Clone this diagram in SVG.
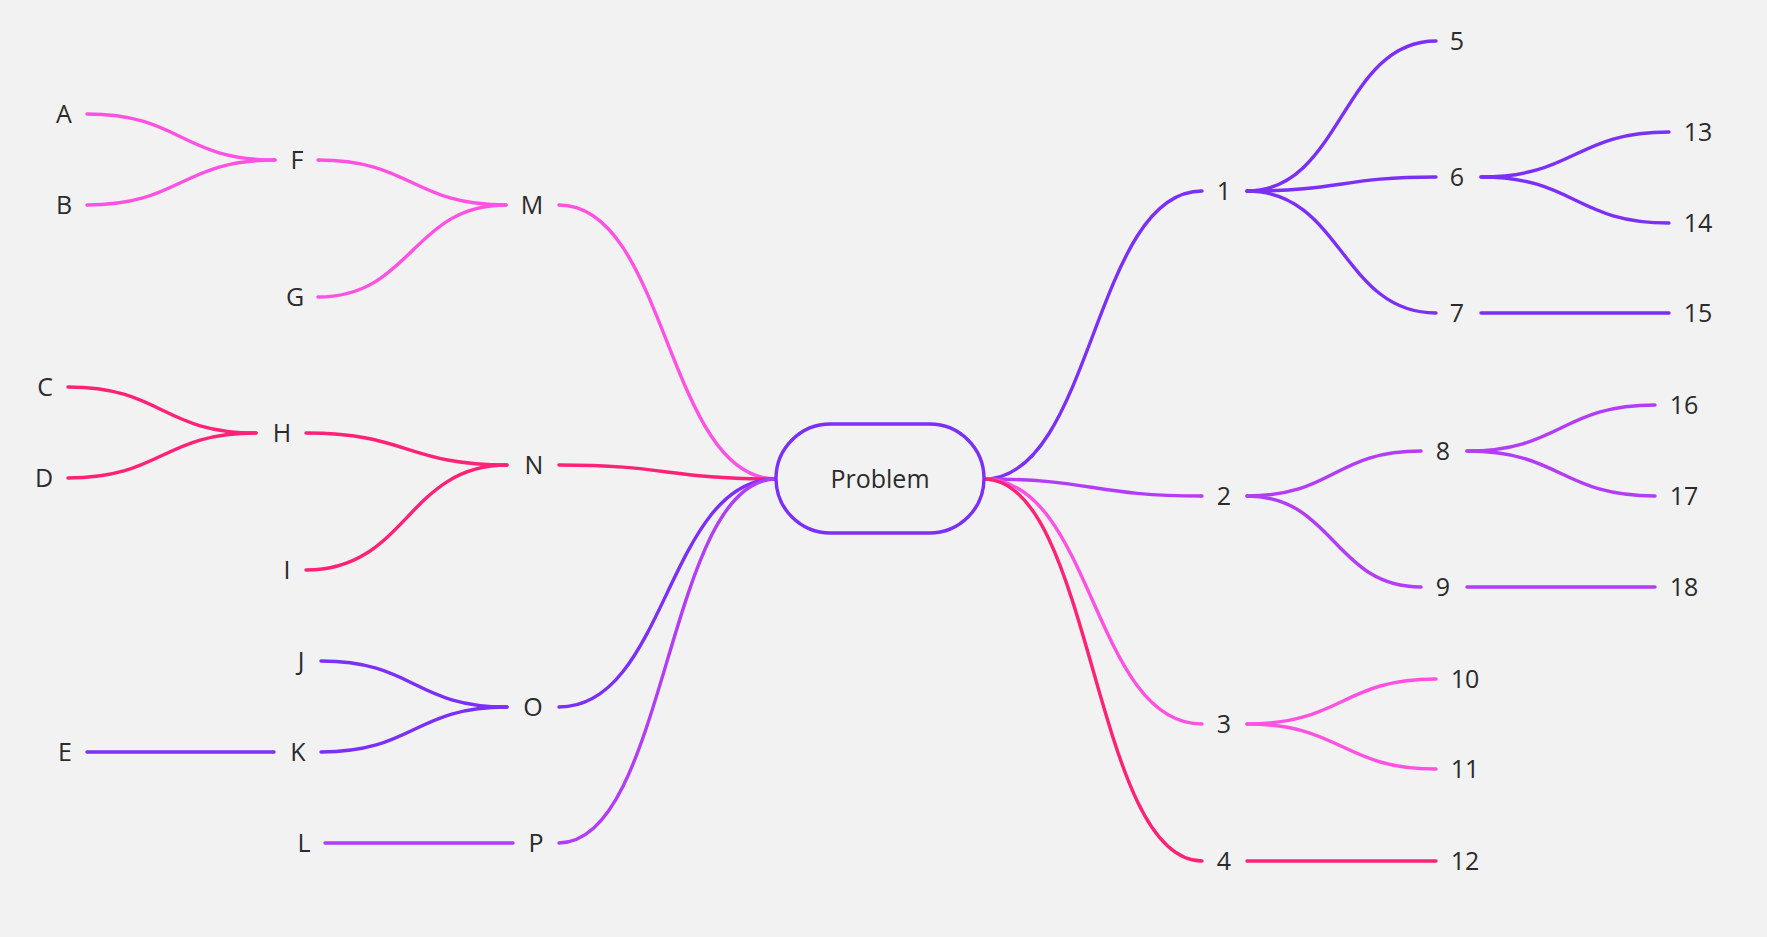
<svg xmlns="http://www.w3.org/2000/svg" width="1767" height="937" viewBox="0 0 1767 937">
<style>
.bg{fill:#f2f2f2}
.c{fill:none;stroke-width:3.4;stroke-linecap:round}
.p1{stroke:#7b2ff7}
.p2{stroke:#b33df5}
.p3{stroke:#ff52e3}
.p4{stroke:#ff2277}
text{font-family:"Open Sans","Noto Sans","Liberation Sans",sans-serif;font-size:25px;fill:#2b2b2b;text-anchor:middle}
.root{fill:#f2f2f2;stroke:#7b2ff7;stroke-width:3.4}
</style>
<rect class="bg" width="1767" height="937"/>
<g id="connectors">
<path class="c p3" d="M87,114 C181,114 181,160 275,160"/>
<path class="c p3" d="M87,205 C181,205 181,160 275,160"/>
<path class="c p3" d="M318,160 C412,160 412,205 506,205"/>
<path class="c p3" d="M318,297 C412,297 412,205 506,205"/>
<path class="c p3" d="M559,205 C667,205 667,479 776,479"/>
<path class="c p4" d="M68,387 C162,387 162,433 256,433"/>
<path class="c p4" d="M68,478 C162,478 162,433 256,433"/>
<path class="c p4" d="M306,433 C407,433 407,465 507,465"/>
<path class="c p4" d="M306,570 C407,570 407,465 507,465"/>
<path class="c p4" d="M559,465 C667,465 667,479 776,479"/>
<path class="c p1" d="M321,661 C414,661 414,707 507,707"/>
<path class="c p1" d="M321,752 C414,752 414,707 507,707"/>
<path class="c p1" d="M87,752 L274,752"/>
<path class="c p1" d="M559,707 C667,707 667,479 776,479"/>
<path class="c p2" d="M325,843 L513,843"/>
<path class="c p2" d="M559,843 C667,843 667,479 776,479"/>
<path class="c p1" d="M984,479 C1093,479 1093,191 1202,191"/>
<path class="c p2" d="M984,479 C1093,479 1093,496 1202,496"/>
<path class="c p3" d="M984,479 C1093,479 1093,724 1202,724"/>
<path class="c p4" d="M984,479 C1093,479 1093,861 1202,861"/>
<path class="c p1" d="M1247,191 C1342,191 1342,41 1436,41"/>
<path class="c p1" d="M1247,191 C1342,191 1342,177 1436,177"/>
<path class="c p1" d="M1247,191 C1342,191 1342,313 1436,313"/>
<path class="c p1" d="M1481,177 C1575,177 1575,132 1669,132"/>
<path class="c p1" d="M1481,177 C1575,177 1575,223 1669,223"/>
<path class="c p1" d="M1481,313 L1669,313"/>
<path class="c p2" d="M1247,496 C1334,496 1334,451 1421,451"/>
<path class="c p2" d="M1247,496 C1334,496 1334,587 1421,587"/>
<path class="c p2" d="M1467,451 C1561,451 1561,405 1655,405"/>
<path class="c p2" d="M1467,451 C1561,451 1561,496 1655,496"/>
<path class="c p2" d="M1467,587 L1655,587"/>
<path class="c p3" d="M1247,724 C1342,724 1342,679 1436,679"/>
<path class="c p3" d="M1247,724 C1342,724 1342,769 1436,769"/>
<path class="c p4" d="M1247,861 L1436,861"/>
</g>
<g id="problem"><rect class="root" x="776" y="424" width="208" height="109" rx="54.5"/><text x="880" y="487.5">Problem</text></g>
<g id="A"><text x="64" y="123">A</text></g>
<g id="B"><text x="64" y="214">B</text></g>
<g id="F"><text x="297" y="169">F</text></g>
<g id="G"><text x="295" y="306">G</text></g>
<g id="M"><text x="532" y="214">M</text></g>
<g id="C"><text x="45" y="396">C</text></g>
<g id="D"><text x="44" y="487">D</text></g>
<g id="H"><text x="282" y="442">H</text></g>
<g id="I"><text x="287" y="579">I</text></g>
<g id="N"><text x="534" y="474">N</text></g>
<g id="J"><text x="301" y="670">J</text></g>
<g id="K"><text x="298" y="761">K</text></g>
<g id="E"><text x="65" y="761">E</text></g>
<g id="O"><text x="533" y="716">O</text></g>
<g id="L"><text x="304" y="852">L</text></g>
<g id="P"><text x="536" y="852">P</text></g>
<g id="n1"><text x="1224" y="200">1</text></g>
<g id="n5"><text x="1457" y="50">5</text></g>
<g id="n6"><text x="1457" y="186">6</text></g>
<g id="n7"><text x="1457" y="322">7</text></g>
<g id="n13"><text x="1698" y="141">13</text></g>
<g id="n14"><text x="1698" y="232">14</text></g>
<g id="n15"><text x="1698" y="322">15</text></g>
<g id="n2"><text x="1224" y="505">2</text></g>
<g id="n8"><text x="1443" y="460">8</text></g>
<g id="n9"><text x="1443" y="596">9</text></g>
<g id="n16"><text x="1684" y="414">16</text></g>
<g id="n17"><text x="1684" y="505">17</text></g>
<g id="n18"><text x="1684" y="596">18</text></g>
<g id="n3"><text x="1224" y="733">3</text></g>
<g id="n10"><text x="1465" y="688">10</text></g>
<g id="n11"><text x="1465" y="778">11</text></g>
<g id="n4"><text x="1224" y="870">4</text></g>
<g id="n12"><text x="1465" y="870">12</text></g>
</svg>
